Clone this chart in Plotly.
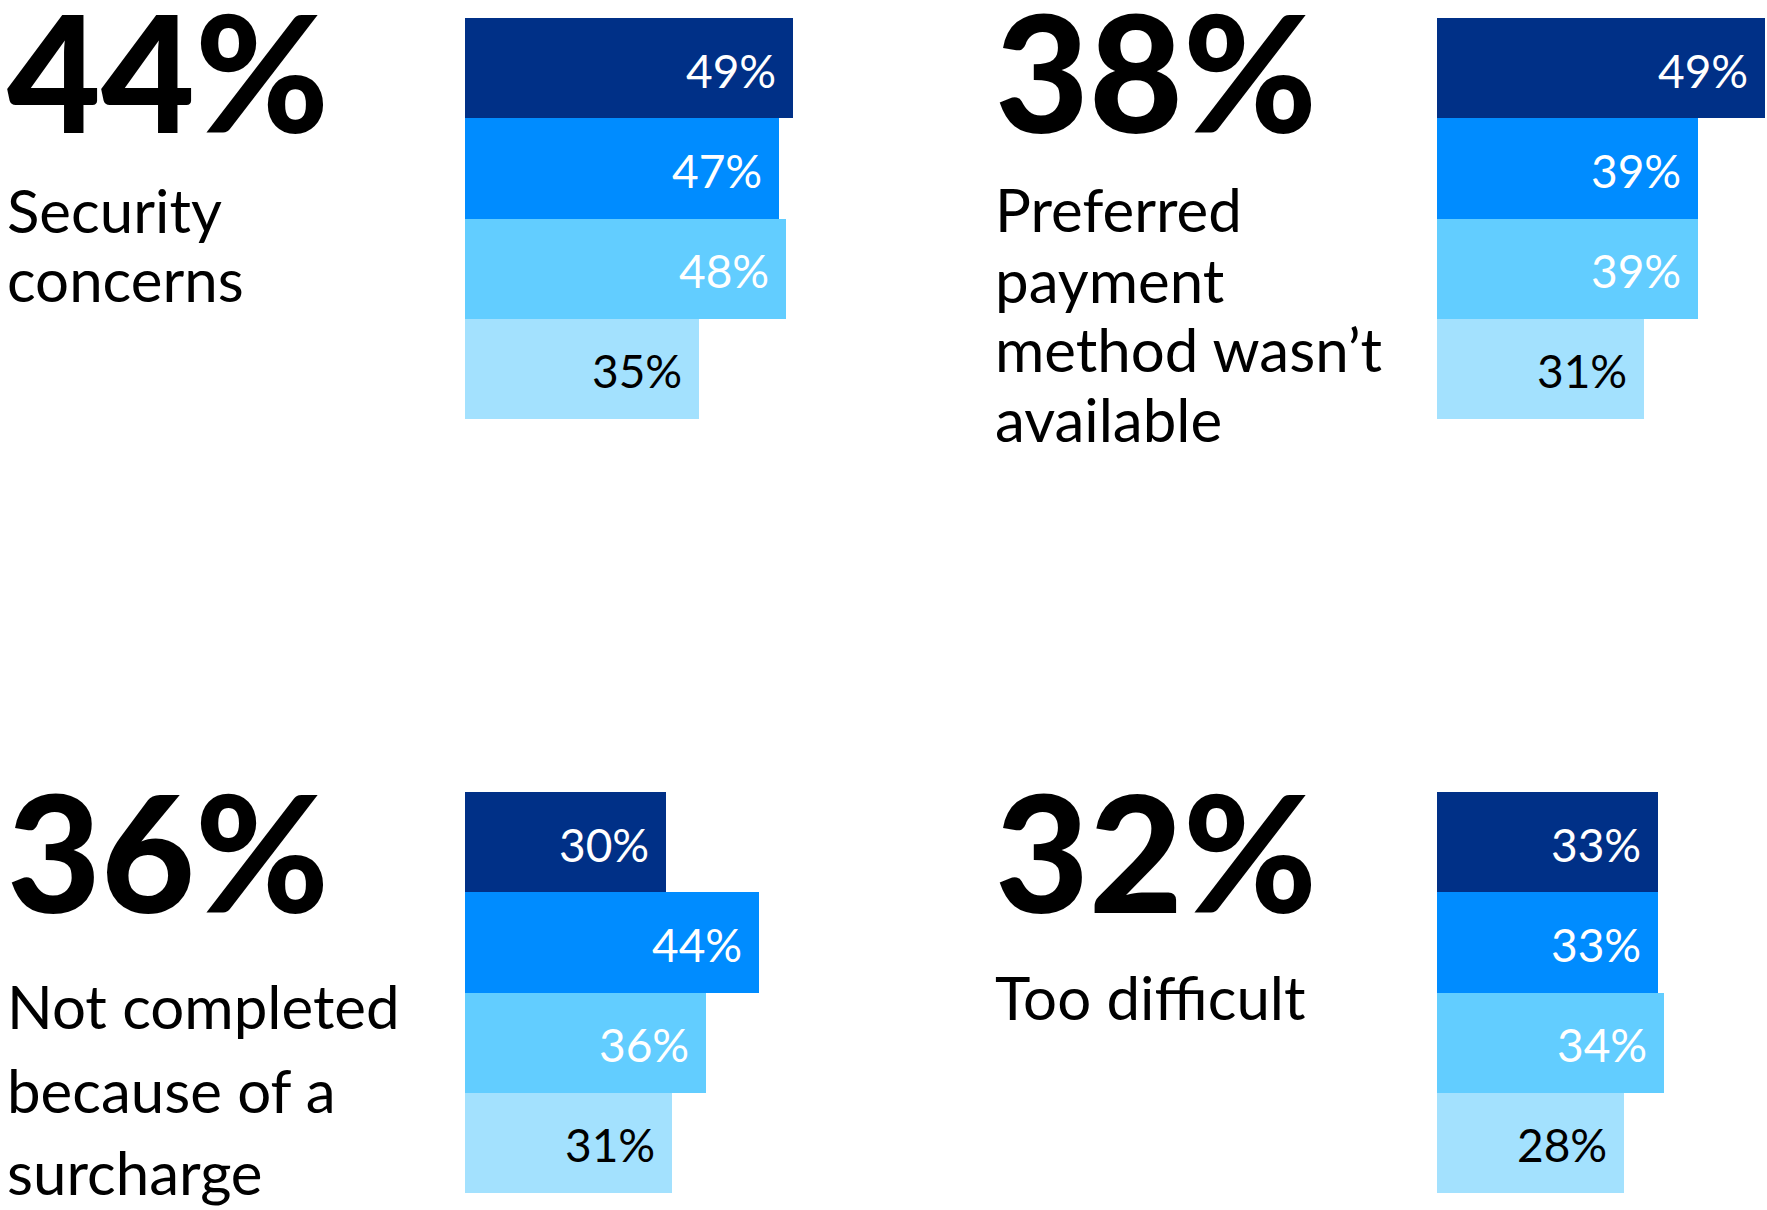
import plotly.graph_objects as go

# Survey data: headline share per reason and the four segment breakdowns
reasons = [
    ["Security", "concerns"],
    ["Preferred", "payment", "method wasn\u2019t", "available"],
    ["Not completed", "because of a", "surcharge"],
    ["Too difficult"],
]
headline = [44, 38, 36, 32]
segments = ["Segment 1", "Segment 2", "Segment 3", "Segment 4"]
security_vals = [49, 47, 48, 35]
payment_vals = [49, 39, 39, 31]
surcharge_vals = [30, 44, 36, 31]
difficult_vals = [33, 33, 34, 28]

panel_values = [security_vals, payment_vals, surcharge_vals, difficult_vals]
bar_colors = ["#003087", "#008CFF", "#62CDFF", "#A3E1FE"]
label_colors = ["#FFFFFF", "#FFFFFF", "#FFFFFF", "#000000"]

W, H = 1767, 1210
PX_PER_PCT = 6.69

# panel geometry in pixels: (bar left, bar top, text left, headline centre, line centres)
panels = [
    dict(bx=465, by=18, tx=5, hy=70, ly=[209.5, 279]),
    dict(bx=1437, by=18, tx=993, hy=70, ly=[209, 279.5, 349.5, 419.5]),
    dict(bx=465, by=792, tx=5, hy=850, ly=[1005.5, 1089.5, 1171.5]),
    dict(bx=1437, by=792, tx=993, hy=850, ly=[996.5]),
]

FONT = "Lato"
fig = go.Figure()
annotations = []
layout_axes = {}

for i, (p, vals) in enumerate(zip(panels, panel_values)):
    n = i + 1
    xa = "x" if n == 1 else f"x{n}"
    ya = "y" if n == 1 else f"y{n}"
    fig.add_trace(go.Bar(
        x=vals, y=segments, orientation="h",
        marker=dict(color=bar_colors, line=dict(width=0)),
        xaxis=xa, yaxis=ya, showlegend=False, hoverinfo="x+y",
    ))
    x0 = p["bx"] / W
    x1 = min(1.0, (p["bx"] + 50 * PX_PER_PCT) / W)
    xmax = (min(W, p["bx"] + 50 * PX_PER_PCT) - p["bx"]) / PX_PER_PCT
    y_top = p["by"]
    y_bot = p["by"] + 4 * 100.25
    layout_axes[f"xaxis{'' if n == 1 else n}"] = dict(
        domain=[x0, x1], range=[0, xmax], visible=False, fixedrange=True,
        anchor=ya,
    )
    layout_axes[f"yaxis{'' if n == 1 else n}"] = dict(
        domain=[1 - y_bot / H, 1 - y_top / H], range=[3.5, -0.5],
        visible=False, fixedrange=True, anchor=xa, type="category",
    )

    # value labels at the end of each bar
    for seg, v, c in zip(segments, vals, label_colors):
        annotations.append(dict(
            x=v, y=seg, xref=xa, yref=ya, text=f"{v}%", showarrow=False,
            xanchor="right", yanchor="middle", xshift=-15, yshift=-2,
            font=dict(family=FONT, size=46, color=c),
        ))

    # headline percentage
    annotations.append(dict(
        x=p["tx"] / W, y=1 - p["hy"] / H, xref="paper", yref="paper",
        text=f"{headline[i]}%", showarrow=False, xanchor="left", yanchor="middle",
        font=dict(family=FONT, size=162, color="#000000", weight=900),
    ))

    # reason description, one annotation per line
    for line, cy in zip(reasons[i], p["ly"]):
        annotations.append(dict(
            x=p["tx"] / W, y=1 - cy / H, xref="paper", yref="paper",
            text=line, showarrow=False, xanchor="left", yanchor="middle",
            font=dict(family=FONT, size=60, color="#000000"),
        ))

fig.update_layout(
    width=W, height=H,
    margin=dict(l=0, r=0, t=0, b=0),
    paper_bgcolor="#FFFFFF", plot_bgcolor="#FFFFFF",
    bargap=0,
    annotations=annotations,
    **layout_axes,
)

fig.write_html("out.html", config={"displayModeBar": False})
